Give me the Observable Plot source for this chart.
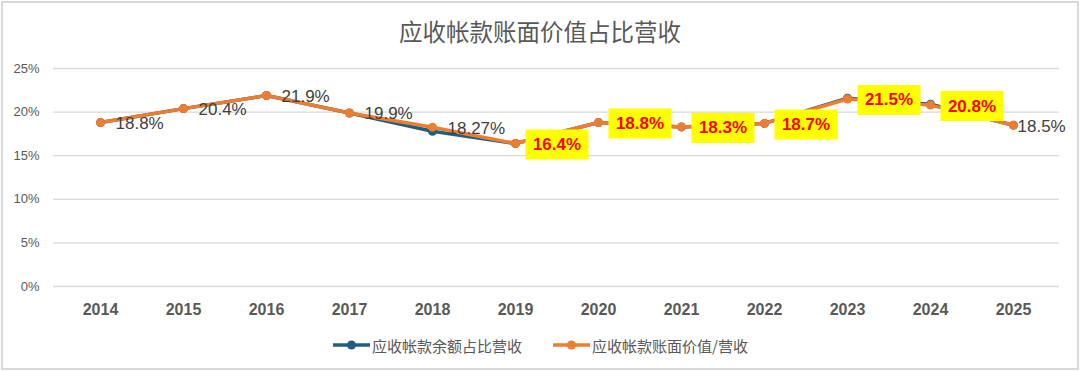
<!DOCTYPE html>
<html>
<head>
<meta charset="utf-8">
<script src="https://cdn.jsdelivr.net/npm/d3@7"></script>
<script src="https://cdn.jsdelivr.net/npm/@observablehq/plot@0.6"></script>
<style>
  html, body { margin: 0; padding: 0; background: #fff; }
  #wrap { position: relative; width: 1080px; height: 371px; overflow: hidden;
          font-family: "Liberation Sans", Arial, "Noto Sans CJK SC", sans-serif; }
  #frame { position: absolute; left: 1px; top: 1px; width: 1074px; height: 365px;
           border: 2px solid #d9d9d9; }
  #title { position: absolute; left: 0; top: 14px; width: 1080px; text-align: center;
           font-family: "Noto Sans CJK SC", sans-serif; font-size: 23.5px; line-height: 34px; color: #595959; }
  #chart { position: absolute; left: 0; top: 50px; }
  #legend { position: absolute; left: 0; top: 333px; width: 1080px; height: 24px; }
  .item { position: absolute; top: 0; height: 24px; display: flex; align-items: center;
          font-family: "Noto Sans CJK SC", sans-serif; font-size: 15px; color: #595959; white-space: nowrap; }
  .item svg { margin-right: 2px; }
</style>
</head>
<body>
<div id="wrap">
  <div id="frame"></div>
  <div id="title"></div>
  <div id="chart"></div>
  <div id="legend"></div>
</div>
<script>
const chartTitle = "应收帐款账面价值占比营收";
const years = ["2014","2015","2016","2017","2018","2019","2020","2021","2022","2023","2024","2025"];
const seriesNames = ["应收帐款余额占比营收", "应收帐款账面价值/营收"];
const seriesColors = ["#1F5F80", "#ED7D31"];
// 应收帐款余额占比营收 (%)
const balanceRatio = [18.8, 20.4, 21.9, 19.9, 17.8, 16.4, 18.8, 18.3, 18.7, 21.6, 20.9, 18.5];
// 应收帐款账面价值/营收 (%)
const bookValueRatio = [18.8, 20.4, 21.9, 19.9, 18.27, 16.4, 18.8, 18.3, 18.7, 21.5, 20.8, 18.5];
const dataLabels = ["18.8%","20.4%","21.9%","19.9%","18.27%","16.4%","18.8%","18.3%","18.7%","21.5%","20.8%","18.5%"];
const highlightedYears = ["2019","2020","2021","2022","2023","2024"];
const yTicks = [0, 5, 10, 15, 20, 25];

document.getElementById("title").textContent = chartTitle;

const blueRows = years.map((year, i) => ({year, value: balanceRatio[i]}));
const orangeRows = years.map((year, i) => ({year, value: bookValueRatio[i], label: dataLabels[i]}));
const hiRows = orangeRows.filter(d => highlightedYears.includes(d.year));
const lastYear = years[years.length - 1];
const plainRows = orangeRows.filter(d => !highlightedYears.includes(d.year) && d.year !== lastYear);
const lastRows = orangeRows.filter(d => d.year === lastYear);

const boxSymbol = { draw(context) { context.rect(-31.5, -15, 63, 30); } };

const chart = Plot.plot({
  width: 1080,
  height: 270,
  marginLeft: 53,
  marginRight: 21,
  marginTop: 18,
  marginBottom: 34,
  style: { fontFamily: '"Liberation Sans", Arial, sans-serif', background: "transparent", overflow: "visible" },
  x: { type: "point", domain: years, padding: 0.5, label: null },
  y: { domain: [0, 25], label: null },
  marks: [
    Plot.gridY(yTicks, { stroke: "#d9d9d9", strokeOpacity: 1, strokeWidth: 1.3 }),
    Plot.axisY(yTicks, { tickSize: 0, tickPadding: 14, fontSize: 13, color: "#595959", label: null, tickFormat: d => d + "%" }),
    Plot.axisX({ tickSize: 0, tickPadding: 17, fontSize: 16, fontWeight: "bold", color: "#595959", label: null }),
    Plot.line(blueRows, { x: "year", y: "value", stroke: seriesColors[0], strokeWidth: 3.5 }),
    Plot.dot(blueRows, { x: "year", y: "value", r: 4.5, fill: seriesColors[0] }),
    Plot.line(orangeRows, { x: "year", y: "value", stroke: seriesColors[1], strokeWidth: 3.5 }),
    Plot.dot(orangeRows, { x: "year", y: "value", r: 4.5, fill: seriesColors[1] }),
    Plot.dot(hiRows, { x: "year", y: "value", symbol: boxSymbol, r: 5, fill: "#FFFF00", dx: 41.5, dy: 1 }),
    Plot.text(hiRows, { x: "year", y: "value", text: "label", dx: 41.5, dy: 1, fill: "#FF0000", fontWeight: "bold", fontSize: 17 }),
    Plot.text(plainRows, { x: "year", y: "value", text: "label", dx: 15, dy: 1, textAnchor: "start", fill: "#404040", fontSize: 17 }),
    Plot.text(lastRows, { x: "year", y: "value", text: "label", dx: 4, dy: 1, textAnchor: "start", fill: "#404040", fontSize: 17 })
  ]
});
document.getElementById("chart").appendChild(chart);

// legend
const legend = document.getElementById("legend");
const legendLeft = [333, 553];
seriesNames.forEach((name, i) => {
  const item = document.createElement("div");
  item.className = "item";
  item.style.left = legendLeft[i] + "px";
  item.innerHTML = `<svg width="37" height="12"><line x1="0" y1="6" x2="37" y2="6" stroke="${seriesColors[i]}" stroke-width="3.5"/><circle cx="18.5" cy="6" r="4.5" fill="${seriesColors[i]}"/></svg>`;
  const span = document.createElement("span");
  span.textContent = name;
  item.appendChild(span);
  legend.appendChild(item);
});
</script>
</body>
</html>
